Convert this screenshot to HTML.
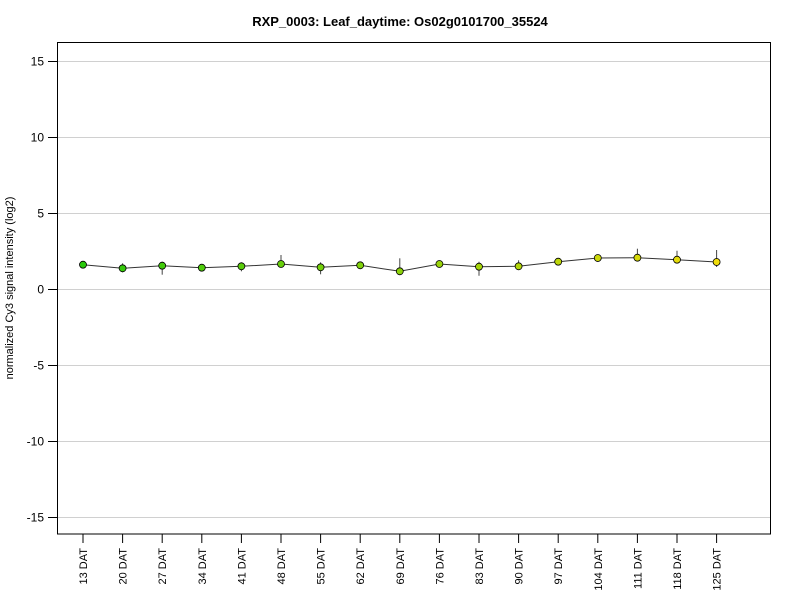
<!DOCTYPE html>
<html><head><style>body{margin:0;background:#fff}</style></head><body>
<svg width="800" height="600" xmlns="http://www.w3.org/2000/svg" font-family="Liberation Sans, sans-serif">
<rect width="800" height="600" fill="#fff"/>
<text x="400" y="26" text-anchor="middle" font-size="13" font-weight="bold">RXP_0003: Leaf_daytime: Os02g0101700_35524</text>
<g stroke="#d0d0d0" stroke-width="1">
<line x1="57" x2="771" y1="61.5" y2="61.5"/><line x1="57" x2="771" y1="137.5" y2="137.5"/><line x1="57" x2="771" y1="213.5" y2="213.5"/><line x1="57" x2="771" y1="289.5" y2="289.5"/><line x1="57" x2="771" y1="365.5" y2="365.5"/><line x1="57" x2="771" y1="441.5" y2="441.5"/><line x1="57" x2="771" y1="517.5" y2="517.5"/>
</g>
<rect x="57.5" y="42.5" width="713" height="491.5" fill="none" stroke="#000"/>
<g stroke="#000"><line x1="48" x2="57" y1="61.5" y2="61.5"/><line x1="48" x2="57" y1="137.5" y2="137.5"/><line x1="48" x2="57" y1="213.5" y2="213.5"/><line x1="48" x2="57" y1="289.5" y2="289.5"/><line x1="48" x2="57" y1="365.5" y2="365.5"/><line x1="48" x2="57" y1="441.5" y2="441.5"/><line x1="48" x2="57" y1="517.5" y2="517.5"/></g>
<g font-size="12" text-anchor="end"><text x="44" y="65.5">15</text><text x="44" y="141.5">10</text><text x="44" y="217.5">5</text><text x="44" y="293.5">0</text><text x="44" y="369.5">-5</text><text x="44" y="445.5">-10</text><text x="44" y="521.5">-15</text></g>
<text transform="translate(13,288) rotate(-90)" text-anchor="middle" font-size="11">normalized Cy3 signal intensity (log2)</text>
<g stroke="#000">
<line x1="83" x2="83" y1="534" y2="543"/><line x1="122.6" x2="122.6" y1="534" y2="543"/><line x1="162.2" x2="162.2" y1="534" y2="543"/><line x1="201.8" x2="201.8" y1="534" y2="543"/><line x1="241.4" x2="241.4" y1="534" y2="543"/><line x1="281" x2="281" y1="534" y2="543"/><line x1="320.6" x2="320.6" y1="534" y2="543"/><line x1="360.2" x2="360.2" y1="534" y2="543"/><line x1="399.8" x2="399.8" y1="534" y2="543"/><line x1="439.4" x2="439.4" y1="534" y2="543"/><line x1="479" x2="479" y1="534" y2="543"/><line x1="518.6" x2="518.6" y1="534" y2="543"/><line x1="558.2" x2="558.2" y1="534" y2="543"/><line x1="597.8" x2="597.8" y1="534" y2="543"/><line x1="637.4" x2="637.4" y1="534" y2="543"/><line x1="677" x2="677" y1="534" y2="543"/><line x1="716.6" x2="716.6" y1="534" y2="543"/>
</g>
<g font-size="11" text-anchor="end">
<text transform="translate(87,548) rotate(-90)">13 DAT</text>
<text transform="translate(126.6,548) rotate(-90)">20 DAT</text>
<text transform="translate(166.2,548) rotate(-90)">27 DAT</text>
<text transform="translate(205.8,548) rotate(-90)">34 DAT</text>
<text transform="translate(245.4,548) rotate(-90)">41 DAT</text>
<text transform="translate(285,548) rotate(-90)">48 DAT</text>
<text transform="translate(324.6,548) rotate(-90)">55 DAT</text>
<text transform="translate(364.2,548) rotate(-90)">62 DAT</text>
<text transform="translate(403.8,548) rotate(-90)">69 DAT</text>
<text transform="translate(443.4,548) rotate(-90)">76 DAT</text>
<text transform="translate(483,548) rotate(-90)">83 DAT</text>
<text transform="translate(522.6,548) rotate(-90)">90 DAT</text>
<text transform="translate(562.2,548) rotate(-90)">97 DAT</text>
<text transform="translate(601.8,548) rotate(-90)">104 DAT</text>
<text transform="translate(641.4,548) rotate(-90)">111 DAT</text>
<text transform="translate(681,548) rotate(-90)">118 DAT</text>
<text transform="translate(720.6,548) rotate(-90)">125 DAT</text>
</g>
<polyline fill="none" stroke="#333" points="83,264.7 122.6,268.3 162.2,265.7 201.8,267.7 241.4,266.3 281,264 320.6,267.3 360.2,265.3 399.8,271.3 439.4,264 479,266.7 518.6,266.3 558.2,261.7 597.8,258 637.4,257.7 677,259.7 716.6,262"/>
<g stroke="#444">
<line x1="83" x2="83" y1="262.7" y2="266.7"/>
<line x1="122.6" x2="122.6" y1="263.3" y2="272.3"/>
<line x1="162.2" x2="162.2" y1="261.7" y2="274.7"/>
<line x1="201.8" x2="201.8" y1="265.7" y2="269.7"/>
<line x1="241.4" x2="241.4" y1="262.3" y2="271.3"/>
<line x1="281" x2="281" y1="255" y2="267"/>
<line x1="320.6" x2="320.6" y1="262.3" y2="274.3"/>
<line x1="360.2" x2="360.2" y1="262.3" y2="267.3"/>
<line x1="399.8" x2="399.8" y1="258.3" y2="274.3"/>
<line x1="439.4" x2="439.4" y1="262" y2="266"/>
<line x1="479" x2="479" y1="261.7" y2="275.7"/>
<line x1="518.6" x2="518.6" y1="260.3" y2="269.3"/>
<line x1="558.2" x2="558.2" y1="258.7" y2="263.7"/>
<line x1="597.8" x2="597.8" y1="255" y2="262"/>
<line x1="637.4" x2="637.4" y1="248.7" y2="260.7"/>
<line x1="677" x2="677" y1="250.7" y2="261.7"/>
<line x1="716.6" x2="716.6" y1="250" y2="267"/>
</g>
<g stroke="#000" stroke-width="0.8">
<circle cx="83" cy="264.7" r="3.5" fill="rgb(40,200,10)"/>
<circle cx="122.6" cy="268.3" r="3.5" fill="rgb(53,201,10)"/>
<circle cx="162.2" cy="265.7" r="3.5" fill="rgb(65,203,10)"/>
<circle cx="201.8" cy="267.7" r="3.5" fill="rgb(78,204,10)"/>
<circle cx="241.4" cy="266.3" r="3.5" fill="rgb(90,205,10)"/>
<circle cx="281" cy="264" r="3.5" fill="rgb(103,206,10)"/>
<circle cx="320.6" cy="267.3" r="3.5" fill="rgb(115,208,10)"/>
<circle cx="360.2" cy="265.3" r="3.5" fill="rgb(128,209,10)"/>
<circle cx="399.8" cy="271.3" r="3.5" fill="rgb(140,210,10)"/>
<circle cx="439.4" cy="264" r="3.5" fill="rgb(153,211,10)"/>
<circle cx="479" cy="266.7" r="3.5" fill="rgb(165,213,10)"/>
<circle cx="518.6" cy="266.3" r="3.5" fill="rgb(178,214,10)"/>
<circle cx="558.2" cy="261.7" r="3.5" fill="rgb(190,215,10)"/>
<circle cx="597.8" cy="258" r="3.5" fill="rgb(203,216,10)"/>
<circle cx="637.4" cy="257.7" r="3.5" fill="rgb(215,218,10)"/>
<circle cx="677" cy="259.7" r="3.5" fill="rgb(228,219,10)"/>
<circle cx="716.6" cy="262" r="3.5" fill="rgb(240,220,10)"/>
</g>
</svg>
</body></html>
